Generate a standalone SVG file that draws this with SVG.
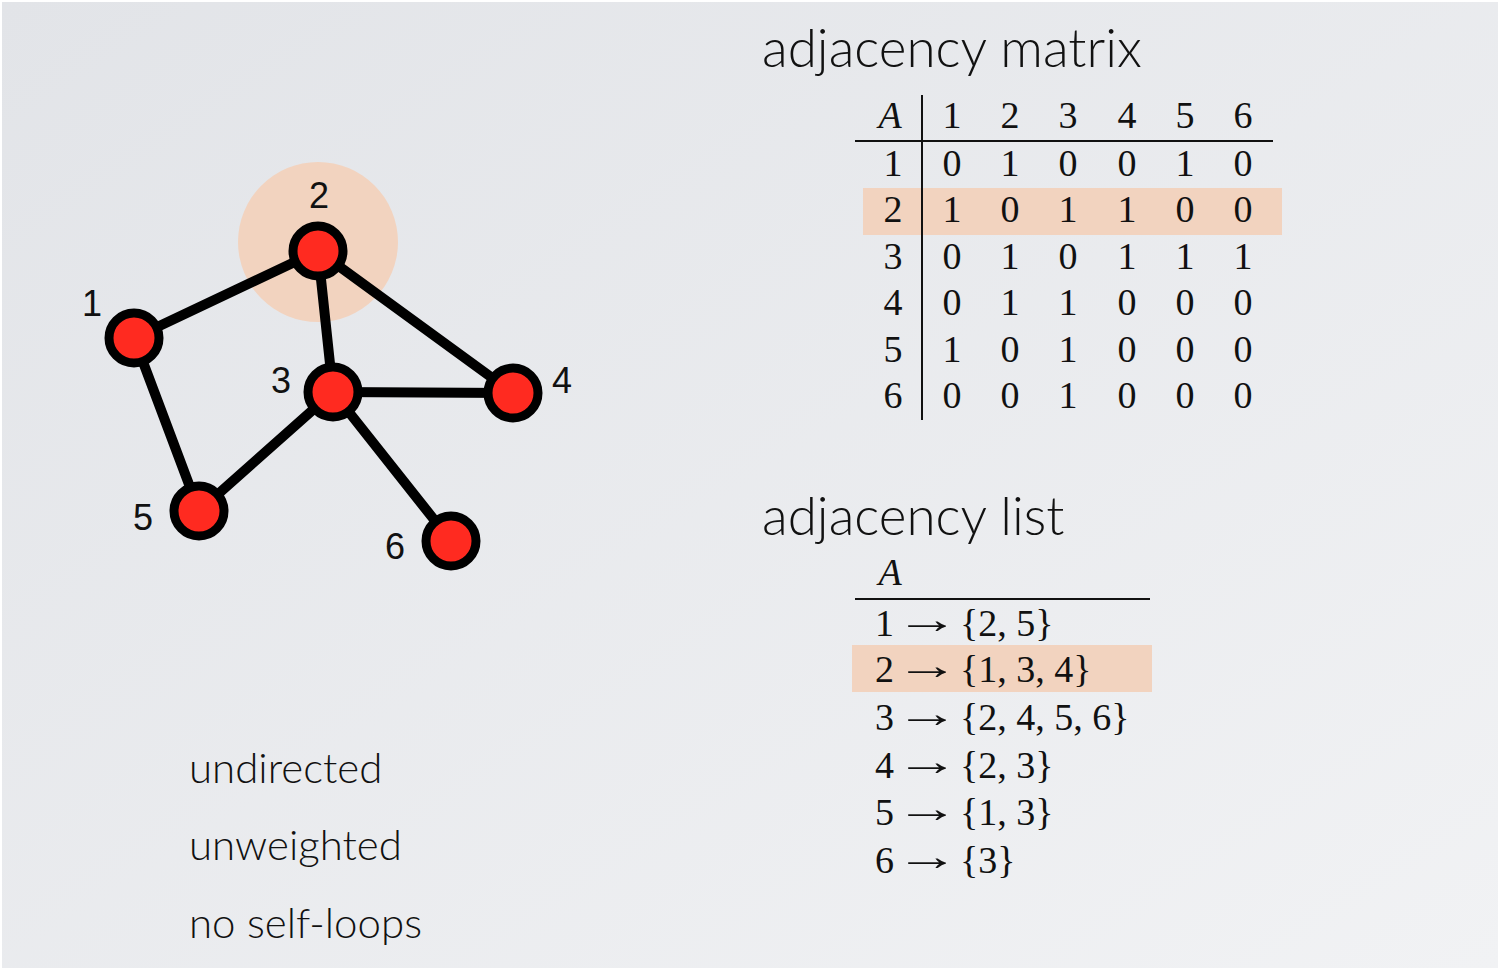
<svg xmlns="http://www.w3.org/2000/svg" width="1500" height="970" viewBox="0 0 1500 970">
<defs>
<linearGradient id="bg" x1="0" y1="0" x2="1" y2="1">
<stop offset="0" stop-color="#e2e4e8"/>
<stop offset="1" stop-color="#f1f2f4"/>
</linearGradient>
<style>
.edge{stroke:#000;stroke-width:10;stroke-linecap:round}
.node{fill:#ff2a20;stroke:#000;stroke-width:9}
.lbl{font-family:"Liberation Sans",Arial,sans-serif;font-size:36px;fill:#111;text-anchor:middle}
.title{font-family:Lato,"Open Sans",sans-serif;font-size:53px;fill:#111;font-weight:300}
.prop{font-family:Lato,"Open Sans",sans-serif;font-size:42px;fill:#111;font-weight:300}
.m{font-family:"Liberation Serif","Times New Roman",serif;font-size:38px;fill:#111;text-anchor:middle}
.mi{font-family:"Liberation Serif","Times New Roman",serif;font-size:38px;fill:#111;font-style:italic;text-anchor:middle}
.l{font-family:"Liberation Serif","Times New Roman",serif;font-size:38px;fill:#111}
.ar{font-family:"Liberation Serif","Times New Roman",serif;font-size:40px;fill:#111}
.hl{fill:#f2d3bf}
.rule{stroke:#111;stroke-width:2}
</style>
</defs>
<rect x="0" y="0" width="1500" height="970" fill="#fff"/>
<rect x="2" y="2" width="1496" height="966" fill="url(#bg)"/>

<circle id="highlight2" cx="318" cy="242" r="80" class="hl"/>

<g id="connectors">
<line class="edge" x1="134" y1="338" x2="318" y2="251"/>
<line class="edge" x1="134" y1="338" x2="199" y2="511"/>
<line class="edge" x1="318" y1="251" x2="333" y2="392"/>
<line class="edge" x1="318" y1="251" x2="513" y2="393"/>
<line class="edge" x1="333" y1="392" x2="513" y2="393"/>
<line class="edge" x1="333" y1="392" x2="199" y2="511"/>
<line class="edge" x1="333" y1="392" x2="451" y2="541"/>
</g>

<g id="node1"><circle class="node" cx="134" cy="338" r="25"/><text class="lbl" x="92" y="316">1</text></g>
<g id="node2"><circle class="node" cx="318" cy="251" r="25"/><text class="lbl" x="319" y="208">2</text></g>
<g id="node3"><circle class="node" cx="333" cy="392" r="25"/><text class="lbl" x="281" y="393">3</text></g>
<g id="node4"><circle class="node" cx="513" cy="393" r="25"/><text class="lbl" x="562" y="393">4</text></g>
<g id="node5"><circle class="node" cx="199" cy="511" r="25"/><text class="lbl" x="143" y="530">5</text></g>
<g id="node6"><circle class="node" cx="451" cy="541" r="25"/><text class="lbl" x="395" y="559">6</text></g>

<g id="properties">
<text class="prop" x="189" y="783">undirected</text>
<text class="prop" x="189" y="860">unweighted</text>
<text class="prop" x="189" y="938">no self-loops</text>
</g>

<g id="matrix">
<text class="title" x="762" y="67">adjacency matrix</text>
<rect class="hl" x="863" y="188" width="419" height="47"/>
<line class="rule" x1="922" y1="95" x2="922" y2="420"/>
<line class="rule" x1="855" y1="141" x2="1273" y2="141"/>
<text class="mi" x="890" y="128">A</text>
<text class="m" y="128"><tspan x="952">1</tspan><tspan x="1010">2</tspan><tspan x="1068">3</tspan><tspan x="1127">4</tspan><tspan x="1185">5</tspan><tspan x="1243">6</tspan></text>
<text class="m" y="176"><tspan x="893">1</tspan><tspan x="952">0</tspan><tspan x="1010">1</tspan><tspan x="1068">0</tspan><tspan x="1127">0</tspan><tspan x="1185">1</tspan><tspan x="1243">0</tspan></text>
<text class="m" y="222"><tspan x="893">2</tspan><tspan x="952">1</tspan><tspan x="1010">0</tspan><tspan x="1068">1</tspan><tspan x="1127">1</tspan><tspan x="1185">0</tspan><tspan x="1243">0</tspan></text>
<text class="m" y="269"><tspan x="893">3</tspan><tspan x="952">0</tspan><tspan x="1010">1</tspan><tspan x="1068">0</tspan><tspan x="1127">1</tspan><tspan x="1185">1</tspan><tspan x="1243">1</tspan></text>
<text class="m" y="315"><tspan x="893">4</tspan><tspan x="952">0</tspan><tspan x="1010">1</tspan><tspan x="1068">1</tspan><tspan x="1127">0</tspan><tspan x="1185">0</tspan><tspan x="1243">0</tspan></text>
<text class="m" y="362"><tspan x="893">5</tspan><tspan x="952">1</tspan><tspan x="1010">0</tspan><tspan x="1068">1</tspan><tspan x="1127">0</tspan><tspan x="1185">0</tspan><tspan x="1243">0</tspan></text>
<text class="m" y="408"><tspan x="893">6</tspan><tspan x="952">0</tspan><tspan x="1010">0</tspan><tspan x="1068">1</tspan><tspan x="1127">0</tspan><tspan x="1185">0</tspan><tspan x="1243">0</tspan></text>
</g>

<g id="list">
<text class="title" x="762" y="535">adjacency list</text>
<rect class="hl" x="852" y="645" width="300" height="47"/>
<text class="mi" x="890" y="585">A</text>
<line class="rule" x1="855" y1="599" x2="1150" y2="599"/>
<text class="l" y="636"><tspan x="875">1</tspan><tspan x="960">{2, 5}</tspan></text>
<text class="l" y="682"><tspan x="875">2</tspan><tspan x="960">{1, 3, 4}</tspan></text>
<text class="l" y="730"><tspan x="875">3</tspan><tspan x="960">{2, 4, 5, 6}</tspan></text>
<text class="l" y="778"><tspan x="875">4</tspan><tspan x="960">{2, 3}</tspan></text>
<text class="l" y="825"><tspan x="875">5</tspan><tspan x="960">{1, 3}</tspan></text>
<text class="l" y="873"><tspan x="875">6</tspan><tspan x="960">{3}</tspan></text>
<text class="ar" transform="translate(895,633) scale(1.6,1)">→</text>
<text class="ar" transform="translate(895,679) scale(1.6,1)">→</text>
<text class="ar" transform="translate(895,727) scale(1.6,1)">→</text>
<text class="ar" transform="translate(895,775) scale(1.6,1)">→</text>
<text class="ar" transform="translate(895,822) scale(1.6,1)">→</text>
<text class="ar" transform="translate(895,870) scale(1.6,1)">→</text>
</g>
</svg>
